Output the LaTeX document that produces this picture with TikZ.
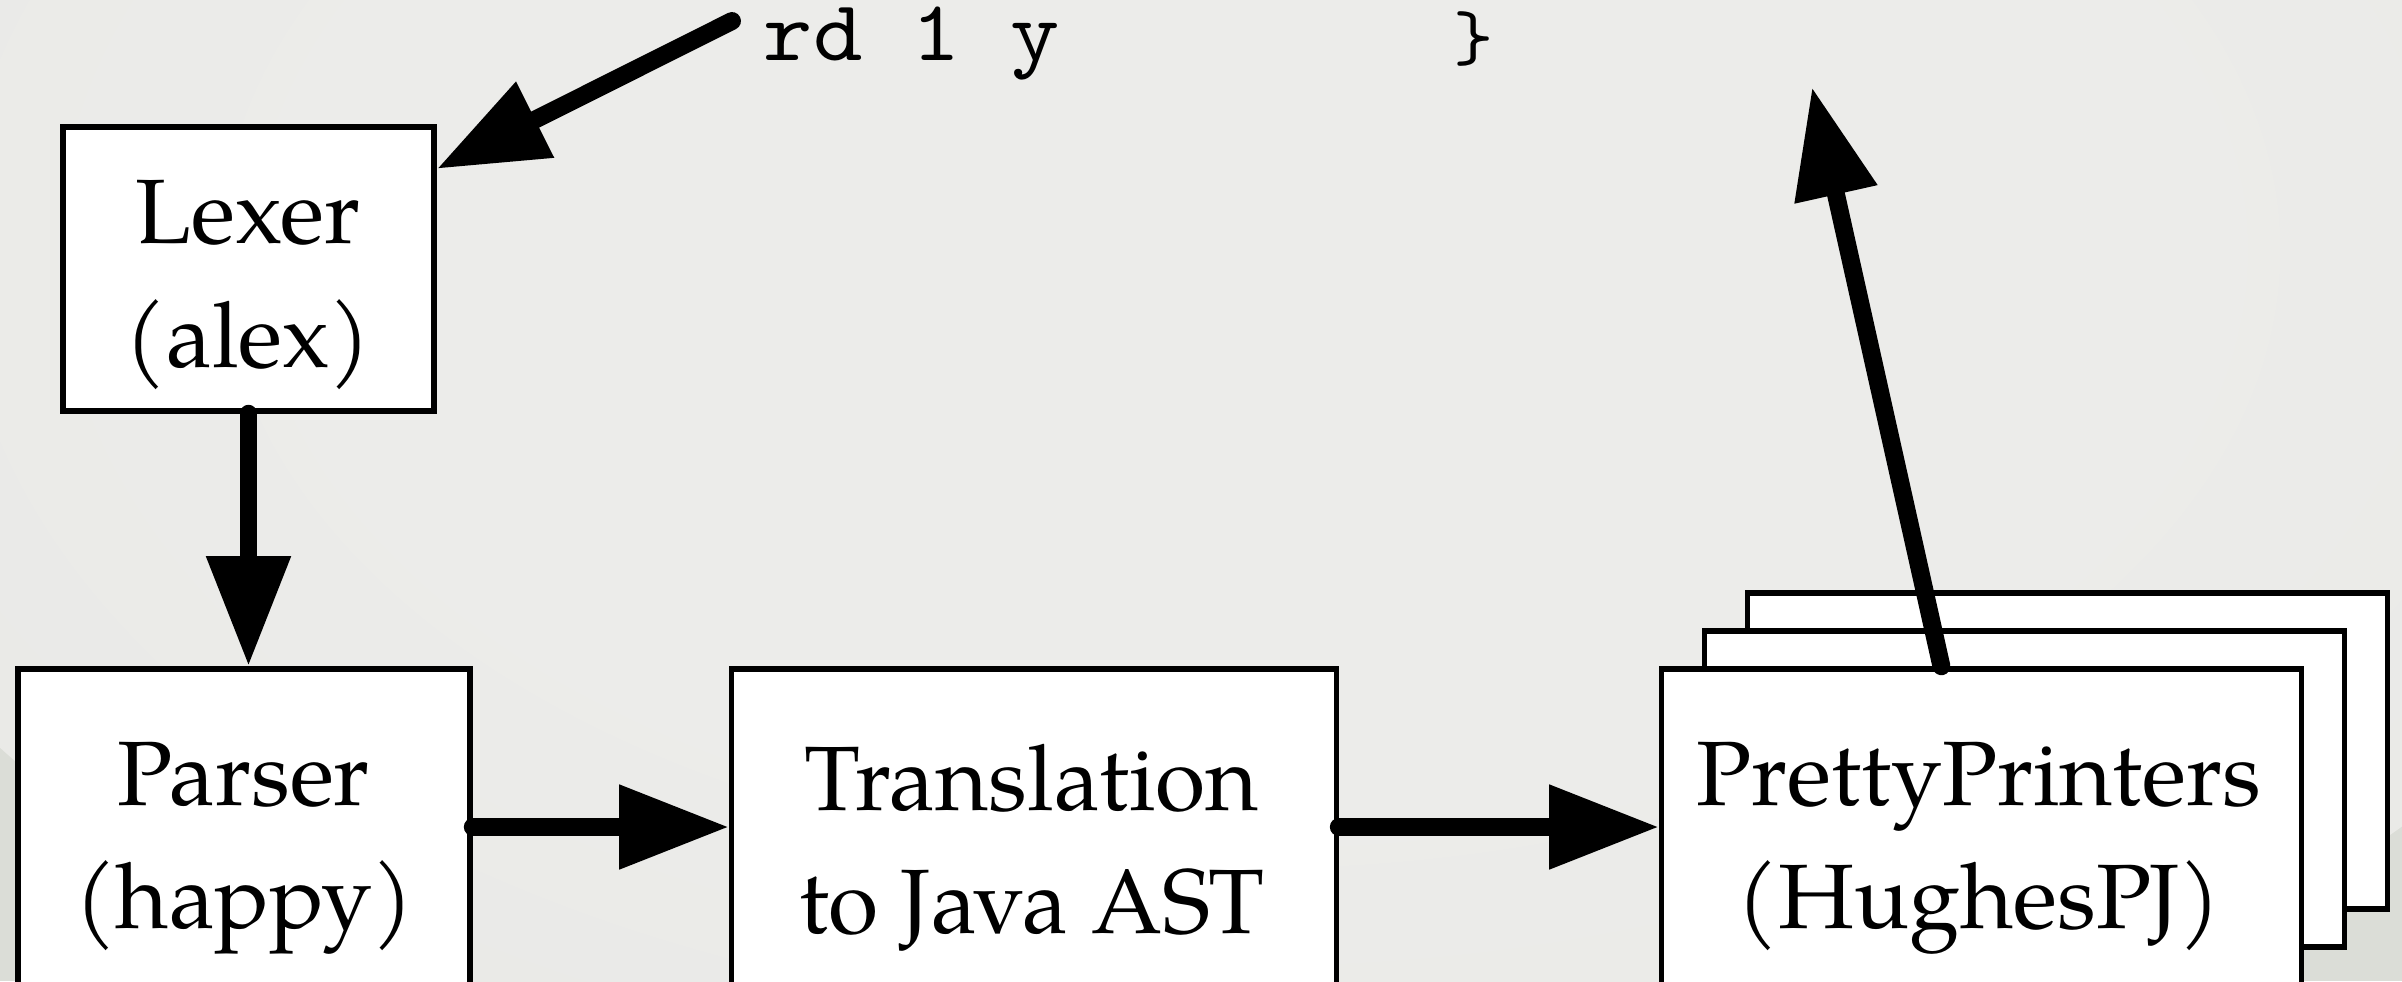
\documentclass[tikz,border=0pt]{standalone}
\usepackage{fontspec}
\setmainfont{TeX Gyre Pagella}
\newfontfamily\codefont{lmmono10-regular.otf}[FakeStretch=1.09]
\usetikzlibrary{arrows.meta,calc}
\definecolor{vc0}{RGB}{236,236,234}
\definecolor{vc1}{RGB}{233,233,230}
\definecolor{vc2}{RGB}{229,230,226}
\definecolor{vc3}{RGB}{224,225,220}
\definecolor{vc4}{RGB}{219,221,215}
\pgfdeclareradialshading{vig}{\pgfpoint{0bp}{0bp}}{color(0bp)=(vc0); color(15bp)=(vc0); color(28bp)=(vc1); color(36bp)=(vc2); color(43bp)=(vc3); color(50bp)=(vc4)}
\begin{document}
\begin{tikzpicture}[x=0.01cm,y=-0.01cm,
  box/.style={draw=black,fill=white,line width=1.5pt,inner sep=0pt},
  lbl/.style={align=center,font=\fontsize{26}{35}\selectfont,inner sep=0pt},
  arr/.style={line width=5.1pt,line cap=round,-{Triangle[length=1.1cm,width=0.8cm]}},
]
\useasboundingbox (0,0) rectangle (2402,981);
\clip (0,0) rectangle (2402,981);
\fill[vc4] (0,0) rectangle (2402,981);
\shade[shading=vig] (1250,250) ellipse [x radius=1500, y radius=900];

% boxes
\node[box,minimum width=3.71cm,minimum height=2.84cm] (lexer) at (248.5,269) {};
\node[lbl] (lexert) at (248,285) {Lexer\\(alex)};

\node[box,minimum width=4.52cm,minimum height=3.16cm] (parser) at (244,827) {};
\node[lbl] (parsert) at (244,848) {Parser\\(happy)};

\node[box,minimum width=6.04cm,minimum height=3.16cm] (trans) at (1034,827) {};
\node[lbl] (transt) at (1032,848) {Translation\\to Java AST};

\node[box,minimum width=6.39cm,minimum height=3.16cm] (ppback) at (2067.5,751) {};
\node[box,minimum width=6.39cm,minimum height=3.16cm] (ppmid) at (2024.5,789) {};
\node[box,minimum width=6.39cm,minimum height=3.16cm] (pp) at (1981.5,827) {};
\node[lbl] (ppt) at (1979,848) {PrettyPrinters\\(HughesPJ)};

% code text
\node[anchor=base west,inner sep=0pt,font=\fontsize{24.5}{30}\selectfont\codefont] (code) at (763,60) {rd~1~y~~~~~~~~{\fontsize{20}{24}\selectfont\}}};

\coordinate (src) at (732,21);
\coordinate (out) at (1812,87);

% connectors
\draw[arr] (src) -- (lexer.28);
\draw[arr] (lexer.south) -- (lexer.south |- parser.north);
\draw[arr] (parser.east) -- (trans.west);
\draw[arr] (trans.east) -- (pp.west);
\draw[arr] (pp.104) -- (out);
\end{tikzpicture}
\end{document}
